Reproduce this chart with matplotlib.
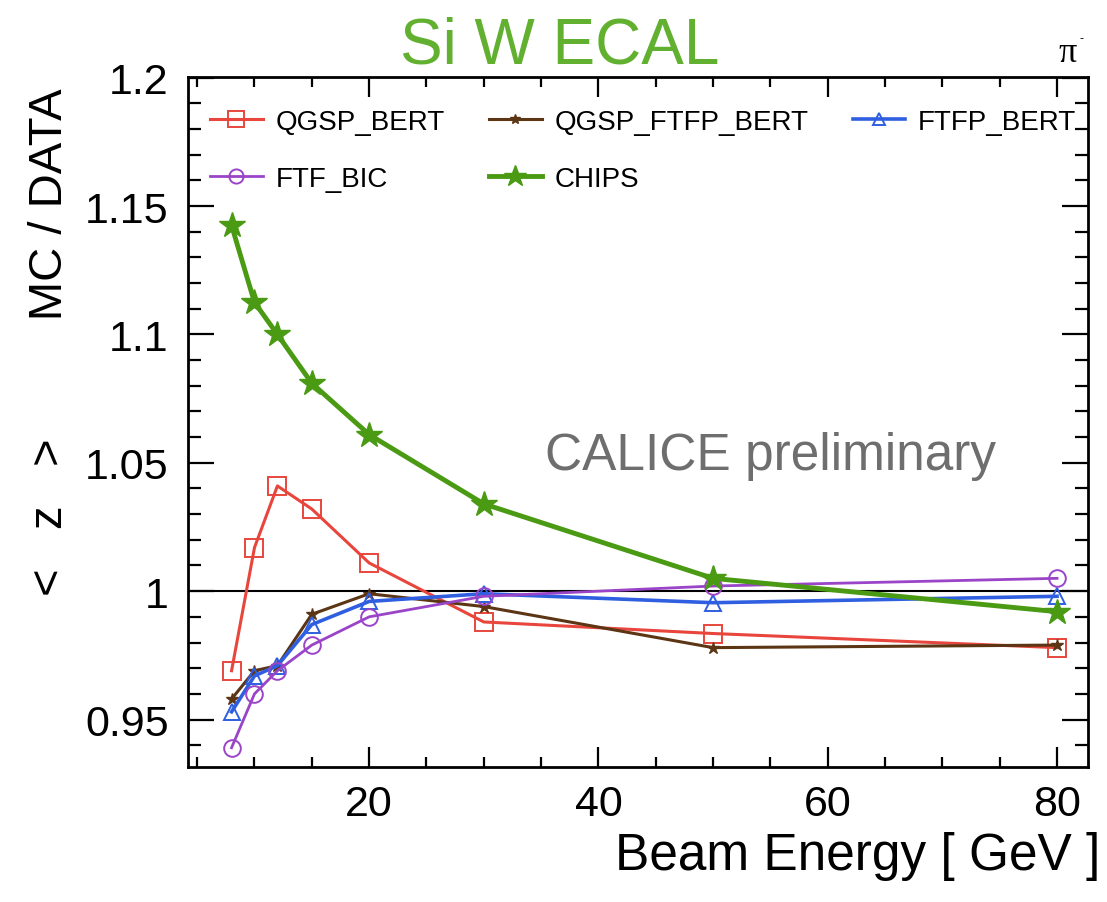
import matplotlib
matplotlib.use("Agg")
import matplotlib.pyplot as plt
from matplotlib.ticker import MultipleLocator, FuncFormatter

# ---- data ----
energy = [8, 10, 12, 15, 20, 30, 50, 80]
qgsp_bert = [0.969, 1.017, 1.041, 1.032, 1.011, 0.988, 0.9835, 0.978]
qgsp_ftfp_bert = [0.958, 0.969, 0.971, 0.991, 0.999, 0.994, 0.978, 0.979]
ftfp_bert = [0.953, 0.967, 0.971, 0.987, 0.996, 0.999, 0.9955, 0.998]
ftf_bic = [0.939, 0.960, 0.969, 0.979, 0.990, 0.998, 1.002, 1.005]
chips = [1.1425, 1.1125, 1.100, 1.081, 1.061, 1.034, 1.005, 0.992]

series_names = ["QGSP_BERT", "QGSP_FTFP_BERT", "FTFP_BERT", "FTF_BIC", "CHIPS"]

plt.rcParams['font.family'] = ['Liberation Sans', 'DejaVu Sans']

W, H = 1107, 903
fig = plt.figure(figsize=(W / 100, H / 100), dpi=100)
ax = fig.add_axes([188 / W, 1 - 768 / H, 900 / W, 690 / H])

h1, = ax.plot(energy, qgsp_bert, color="#e8463c", lw=2.2, marker="s", ms=13,
              mfc="none", mec="#e8463c", mew=1.4, label=series_names[0], zorder=3)
h2, = ax.plot(energy, qgsp_ftfp_bert, color="#5b3514", lw=2.2, marker="*", ms=9,
              mfc="#5b3514", mec="#5b3514", label=series_names[1], zorder=3)
h3, = ax.plot(energy, ftfp_bert, color="#2f5fe0", lw=2.6, marker="^", ms=11,
              mfc="none", mec="#2f5fe0", mew=1.4, label=series_names[2], zorder=3)
h4, = ax.plot(energy, ftf_bic, color="#9a44c8", lw=2.0, marker="o", ms=12,
              mfc="none", mec="#9a44c8", mew=1.4, label=series_names[3], zorder=3)
h5, = ax.plot(energy, chips, color="#4a9a14", lw=3.5, marker="*", ms=19,
              mfc="#4a9a14", mec="#4a9a14", label=series_names[4], zorder=4)

ax.axhline(1.0, color="black", lw=1.5, zorder=2)

ax.set_xlim(4.2, 82.7)
ax.set_ylim(0.9315, 1.2003)

ax.xaxis.set_major_locator(MultipleLocator(20))
ax.xaxis.set_minor_locator(MultipleLocator(5))
ax.yaxis.set_major_locator(MultipleLocator(0.05))
ax.yaxis.set_minor_locator(MultipleLocator(0.01))
ax.yaxis.set_major_formatter(FuncFormatter(lambda v, p: "%g" % round(v, 3)))
ax.xaxis.set_major_formatter(FuncFormatter(lambda v, p: "%g" % v))

ax.tick_params(axis='both', which='both', direction='in', top=True, right=True,
               width=1.6, labelsize=31)
ax.tick_params(axis='y', which='major', length=19, pad=14)
ax.tick_params(axis='y', which='minor', length=9.5)
ax.tick_params(axis='x', which='major', length=14.5, pad=12)
ax.tick_params(axis='x', which='minor', length=7.5)
for sp in ax.spines.values():
    sp.set_linewidth(2.0)

ax.set_xlabel("Beam Energy [ GeV ]", fontsize=37, loc='right')
ax.xaxis.set_label_coords((1100 - 188) / 900, -(870 - 768) / 690)
ax.xaxis.label.set_va('baseline')

ax.set_ylabel("<   z   >         MC / DATA", fontsize=34, loc='top')
ax.yaxis.set_label_coords((62 - 188) / 900, (768 - 88) / 690)
ax.yaxis.label.set_va('baseline')

# row-wise legend order (matplotlib fills columns first)
order = [h1, h4, h2, h5, h3]
leg = ax.legend(handles=order, labels=[h.get_label() for h in order],
                loc='upper left', bbox_to_anchor=((210 - 188) / 900, (768 - 110) / 690),
                ncol=3, frameon=False, fontsize=20, handlelength=1.9,
                handletextpad=0.45, columnspacing=1.6, labelspacing=1.1,
                borderpad=0, borderaxespad=0, markerscale=0.85)

ax.text((545 - 188) / 900, (768 - 470) / 690, "CALICE preliminary", transform=ax.transAxes,
        fontsize=37, color="#6e6e6e", ha='left', va='baseline')

fig.text(560 / W, 1 - 63 / H, "Si W ECAL", fontsize=46, color="#62b030",
         ha='center', va='baseline')
fig.text(1068 / W, 1 - 62 / H, "π", fontsize=26, color="black",
         family=['Liberation Serif', 'DejaVu Serif'], ha='center', va='baseline')
fig.text(1081 / W, 1 - 42 / H, "-", fontsize=9, color="black",
         ha='center', va='baseline')

fig.savefig("out.png", dpi=100)
